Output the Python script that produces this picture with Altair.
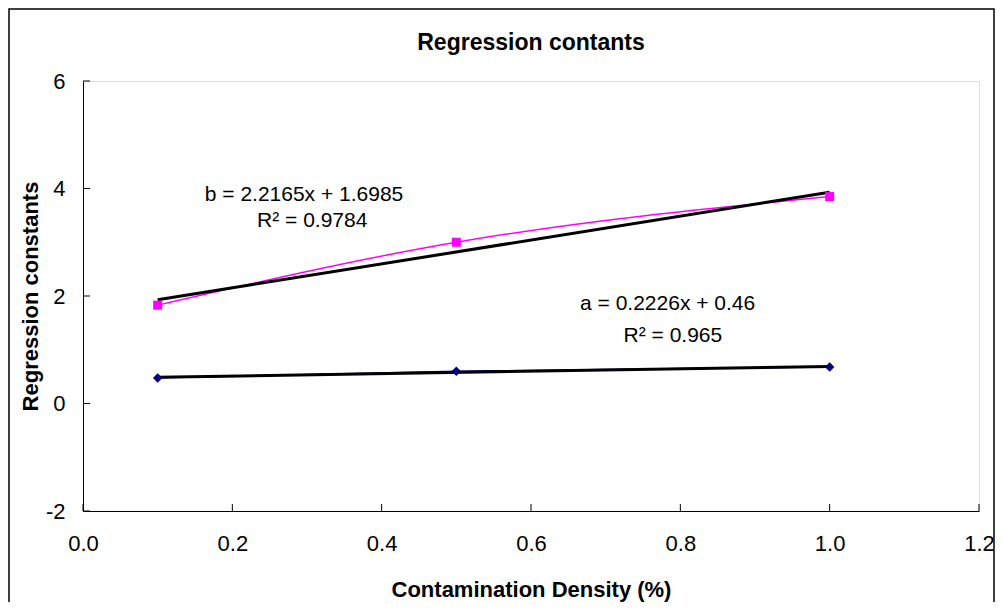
import altair as alt
import pandas as pd

# Data
density = [0.1, 0.5, 1.0]
b_values = [1.83, 3.00, 3.85]
a_values = [0.475, 0.60, 0.68]

x_ticks = [0.0, 0.2, 0.4, 0.6, 0.8, 1.0, 1.2]
y_ticks = [-2, 0, 2, 4, 6]

title_text = "Regression contants"
ann_text = ["b = 2.2165x + 1.6985", "R\u00b2 = 0.9784", "a = 0.2226x + 0.46", "R\u00b2 = 0.965"]
ann_x = [0.296, 0.307, 0.783, 0.790]
ann_y = [3.88, 3.40, 1.85, 1.265]

FONT = "Liberation Sans"
W, H = 896, 430

df = pd.DataFrame({"x": density * 2, "y": b_values + a_values,
                   "s": ["b"] * 3 + ["a"] * 3})
ann = pd.DataFrame({"t": ann_text, "x": ann_x, "y": ann_y})
xt = pd.DataFrame({"v": x_ticks})
yt = pd.DataFrame({"v": y_ticks})

xs = alt.Scale(domain=[0, 1.2], nice=False, zero=False)
ys = alt.Scale(domain=[-2, 6], nice=False, zero=False)

X = alt.X("x:Q", scale=xs, axis=alt.Axis(
    values=x_ticks, format=".1f", grid=False, ticks=False, tickSize=0, labelFlush=False,
    labelFont=FONT, labelFontSize=22, labelColor="black", labelPadding=22,
    domainColor="black", title="Contamination Density (%)",
    titleFont=FONT, titleFontSize=22, titleFontWeight="bold", titleColor="black",
    titlePadding=25))
Y = alt.Y("y:Q", scale=ys, axis=alt.Axis(
    values=y_ticks, grid=False, ticks=False, tickSize=0, labelFlush=False,
    labelExpr="toString(datum.value)",
    labelFont=FONT, labelFontSize=22, labelColor="black", labelPadding=18,
    domainColor="black", title="Regression constants",
    titleFont=FONT, titleFontSize=22, titleFontWeight="bold", titleColor="black",
    titleX=-53, titleY=H / 2, titleBaseline="middle", titleAngle=270, titleAlign="center"))

base = alt.Chart(df)

b_line = base.transform_filter("datum.s == 'b'").mark_line(
    color="#FF00FF", strokeWidth=1.5, interpolate="monotone").encode(x=X, y=Y)
a_line = base.transform_filter("datum.s == 'a'").mark_line(
    color="#000080", strokeWidth=1.5, interpolate="monotone").encode(x="x:Q", y="y:Q")

b_pts = base.transform_filter("datum.s == 'b'").mark_square(
    color="#FF00FF", size=81, opacity=1).encode(x="x:Q", y="y:Q")
a_pts = base.transform_filter("datum.s == 'a'").mark_point(
    shape="diamond", filled=True, color="#000080", size=90, opacity=1).encode(x="x:Q", y="y:Q")

b_trend = base.transform_filter("datum.s == 'b'").transform_regression(
    "x", "y", extent=[0.1, 1.0]).mark_line(color="black", strokeWidth=3).encode(x="x:Q", y="y:Q")
a_trend = base.transform_filter("datum.s == 'a'").transform_regression(
    "x", "y", extent=[0.1, 1.0]).mark_line(color="black", strokeWidth=3).encode(x="x:Q", y="y:Q")

labels = alt.Chart(ann).mark_text(
    font=FONT, fontSize=21, color="black", align="center", baseline="middle").encode(
    x="x:Q", y="y:Q", text="t:N")

title = alt.Chart(pd.DataFrame({"t": [title_text]})).mark_text(
    font=FONT, fontSize=23, fontWeight="bold", color="black", align="center",
    baseline="middle").encode(x=alt.value(W / 2), y=alt.value(-38), text="t:N")

xtick = alt.Chart(xt).mark_rule(color="black", strokeWidth=1).encode(
    x="v:Q", y=alt.value(H), y2=alt.value(H - 7))
ytick = alt.Chart(yt).mark_rule(color="black", strokeWidth=1).encode(
    y="v:Q", x=alt.value(0), x2=alt.value(7))

border = alt.Chart(pd.DataFrame({"k": [0]})).mark_rect(
    fill="transparent", stroke="black", strokeWidth=1.5).encode(
    x=alt.value(-74), x2=alt.value(911), y=alt.value(-72), y2=alt.value(540))

chart = alt.layer(
    border, b_line, a_line, xtick, ytick, b_trend, a_trend, b_pts, a_pts, labels, title
).properties(
    width=W, height=H,
    autosize=alt.AutoSizeParams(type="none"),
    padding={"left": 75, "top": 73, "right": 16, "bottom": 91},
).configure_view(strokeWidth=0).configure(background="white")

chart.save("out.html", embed_options={"renderer": "svg", "actions": False})
